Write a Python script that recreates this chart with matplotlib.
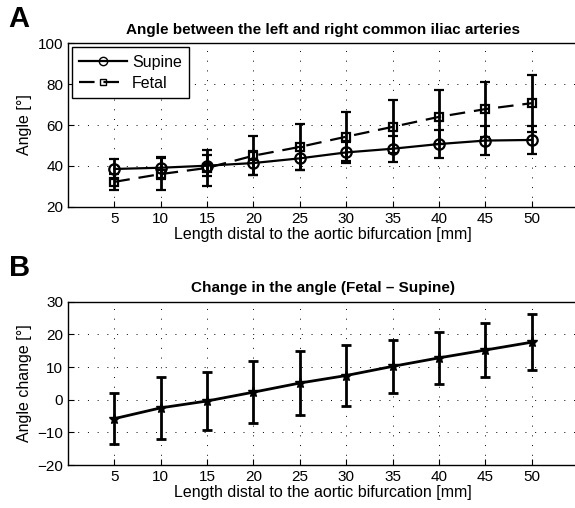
import matplotlib
matplotlib.use("Agg")
import matplotlib.pyplot as plt
from matplotlib.lines import Line2D

plt.rcParams['font.family'] = ['Liberation Sans', 'DejaVu Sans']

length = [5, 10, 15, 20, 25, 30, 35, 40, 45, 50]
supine = [38.5, 39.1, 40.1, 41.4, 43.7, 46.6, 48.4, 50.7, 52.4, 52.7]
supine_err = [5.0, 5.5, 5.0, 6.0, 5.5, 5.0, 6.3, 7.0, 7.3, 7.0]
fetal = [32.2, 36.0, 39.0, 45.0, 49.3, 54.3, 59.1, 64.0, 67.8, 70.7]
fetal_err = [4.0, 8.0, 9.0, 9.5, 11.4, 12.0, 13.0, 13.3, 13.5, 14.0]
change = [-5.8, -2.5, -0.4, 2.3, 5.1, 7.4, 10.2, 12.8, 15.2, 17.6]
change_err = [7.7, 9.5, 9.0, 9.5, 9.8, 9.2, 8.2, 8.0, 8.4, 8.5]

fig = plt.figure(figsize=(5.75, 5.08), dpi=100)
ax1 = fig.add_axes([0.1183, 0.593, 0.887, 0.3217])
ax2 = fig.add_axes([0.1183, 0.0846, 0.887, 0.3215])

dash = (0, (7, 4))


def style(ax):
    ax.set_xlim(0, 55)
    ax.set_xticks(length)
    ax.grid(True, color='black', linestyle=(0, (1, 9)), linewidth=0.7)
    ax.tick_params(direction='in', labelsize=11, length=4, width=0.8)
    for s in ax.spines.values():
        s.set_linewidth(1.0)
    ax.set_xlabel('Length distal to the aortic bifurcation [mm]', fontsize=11.5, labelpad=1)


ax1.errorbar(length, supine, yerr=supine_err, color='black', linestyle='-', linewidth=1.6,
             marker='o', markersize=7.5, markerfacecolor='none', markeredgewidth=1.6,
             elinewidth=2, capsize=3.5, capthick=2)
ax1.errorbar(length, fetal, yerr=fetal_err, color='black', linestyle=dash, linewidth=1.6,
             marker='s', markersize=6, markerfacecolor='none', markeredgewidth=1.6,
             elinewidth=2, capsize=3.5, capthick=2)
style(ax1)
ax1.set_ylim(20, 100)
ax1.set_yticks([20, 40, 60, 80, 100])
ax1.set_ylabel('Angle [°]', fontsize=11.5)
ax1.set_title('Angle between the left and right common iliac arteries',
              fontsize=11, fontweight='bold', pad=7)
handles = [
    Line2D([], [], color='black', linestyle='-', linewidth=1.6, marker='o', markersize=6,
           markerfacecolor='none', markeredgewidth=1.0),
    Line2D([], [], color='black', linestyle=dash, linewidth=1.6, marker='s', markersize=5,
           markerfacecolor='none', markeredgewidth=1.0),
]
leg = ax1.legend(handles, ['Supine', 'Fetal'], loc='upper left', fontsize=11.5, frameon=True,
                 fancybox=False, edgecolor='black', handlelength=3.0, borderaxespad=0.25,
                 borderpad=0.45, labelspacing=0.4, handletextpad=0.3, framealpha=1)
leg.get_frame().set_linewidth(1.0)

ax2.errorbar(length, change, yerr=change_err, color='black', linestyle='-', linewidth=2,
             marker='*', markersize=8, elinewidth=2, capsize=3.5, capthick=2)
style(ax2)
ax2.set_ylim(-20, 30)
ax2.set_yticks([-20, -10, 0, 10, 20, 30])
ax2.set_yticklabels(['\u221220', '\u221210', '0', '10', '20', '30'])
ax2.set_ylabel('Angle change [°]', fontsize=11.5)
ax2.set_title('Change in the angle (Fetal \u2013 Supine)', fontsize=11, fontweight='bold', pad=7)

fig.text(0.015, 0.99, 'A', fontsize=21, fontweight='bold', va='top')
fig.text(0.015, 0.50, 'B', fontsize=21, fontweight='bold', va='top')

fig.savefig('out.png', dpi=100)
